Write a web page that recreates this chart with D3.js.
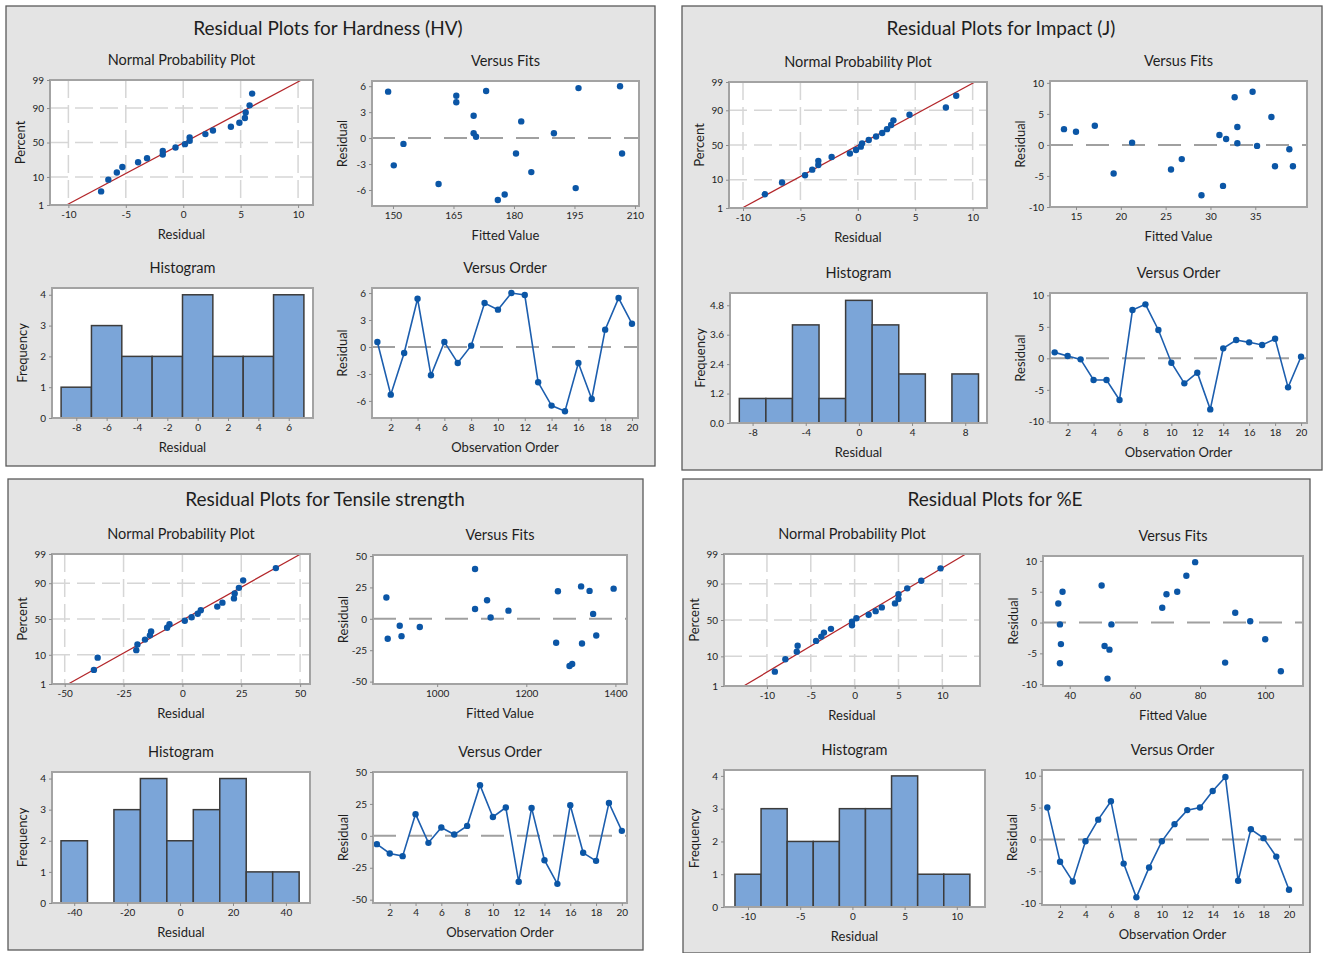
<!DOCTYPE html>
<html><head><meta charset="utf-8">
<script src="https://cdn.jsdelivr.net/npm/d3@7"></script>
<style>
body{margin:0;background:#fff;}
svg text{font-family:Lato,"Open Sans","Noto Sans",sans-serif;fill:#1e1e1e;}
</style></head><body>
<svg id="c" width="1323" height="953"></svg>
<script>
// ---------------- DATA ----------------
const percentTicks = [1, 10, 50, 90, 99];
const orderTicks = [2, 4, 6, 8, 10, 12, 14, 16, 18, 20];

// Hardness (HV)
const hardResid = [0.56,-5.30,-0.67,5.37,-3.15,0.56,-1.78,0.15,4.89,4.15,6.00,5.78,-3.93,-6.52,-7.15,-1.78,-5.78,1.93,5.44,2.59];
const hardFits  = [170.0,161.3,152.6,148.8,150.2,189.9,180.5,170.6,165.7,165.7,206.3,196.0,184.3,177.7,176.0,206.8,195.3,181.8,173.1,170.0];
const hardHistCenters = [-8,-6,-4,-2,0,2,4,6];
const hardHistCounts  = [1,3,2,2,4,2,2,4];
const hardNppXTicks = [-10,-5,0,5,10];
const hardFitTicks = [150,165,180,195,210];
const hardResidTicks = [-6,-3,0,3,6];
const hardHistXTicks = [-8,-6,-4,-2,0,2,4,6];
const hardFreqTicks = [0,1,2,3,4];

// Impact (J)
const impResid = [0.95,0.37,-0.16,-3.44,-3.44,-6.60,7.67,8.57,4.50,-0.69,-3.97,-2.28,-8.10,1.59,2.90,2.54,2.12,3.10,-4.60,0.26];
const impFits  = [31.75,21.26,35.2,37.2,39.2,31.4,32.7,34.7,36.8,38.8,25.6,26.8,29.0,31.0,33.0,13.66,15.0,17.1,19.2,33.0];
const impHistCenters = [-8,-6,-4,-2,0,2,4,6,8];
const impHistCounts  = [1,1,4,1,5,4,2,0,2];
const impNppXTicks = [-10,-5,0,5,10];
const impFitTicks = [15,20,25,30,35];
const impResidTicks = [-10,-5,0,5,10];
const impHistXTicks = [-8,-4,0,4,8];
const impFreqTicks = [0,1.2,2.4,3.6,4.8];

// Tensile strength
const tenResid = [-6.5,-13.8,-15.9,17.0,-5.5,6.5,1.0,7.8,39.7,14.8,22.2,-36.0,21.9,-19.1,-37.6,24.0,-13.3,-19.6,25.8,3.9];
const tenFits  = [961,920,889,886,916,1160,1120,1085,1085,1112,1342,1303,1271,1267,1297,1396,1357,1325,1323,1350];
const tenHistCenters = [-40,-30,-20,-10,0,10,20,30,40];
const tenHistCounts  = [2,0,3,4,2,3,4,1,1];
const tenNppXTicks = [-50,-25,0,25,50];
const tenFitTicks = [1000,1200,1400];
const tenResidTicks = [-50,-25,0,25,50];
const tenHistXTicks = [-40,-20,0,20,40];
const tenFreqTicks = [0,1,2,3,4];

// %E
const elResid = [5.0,-3.5,-6.6,-0.3,3.1,6.0,-3.8,-9.1,-4.4,-0.3,2.4,4.6,5.0,7.6,9.8,-6.5,1.6,0.2,-2.7,-7.9];
const elFits  = [37.8,37.3,37.0,37.0,36.5,49.8,50.7,51.6,52.2,52.8,68.4,69.7,73.0,75.8,78.5,87.7,90.8,95.4,100.0,104.8];
const elHistCenters = [-10,-7.5,-5,-2.5,0,2.5,5,7.5,10];
const elHistCounts  = [1,3,2,2,3,3,4,1,1];
const elNppXTicks = [-10,-5,0,5,10];
const elFitTicks = [40,60,80,100];
const elResidTicks = [-10,-5,0,5,10];
const elHistXTicks = [-10,-5,0,5,10];
const elFreqTicks = [0,1,2,3,4];

// ---------------- LAYOUT ----------------
const panels = [
  {title:"Residual Plots for Hardness (HV)", box:[6,6,655,466], tx:328, ty:28,
   resid:hardResid, fits:hardFits, hc:hardHistCenters, hn:hardHistCounts, bw:2,
   nppXT:hardNppXTicks, fitT:hardFitTicks, resT:hardResidTicks, hxT:hardHistXTicks, hyT:hardFreqTicks, hyFmt:d=>String(d),
   npp:{f:[50,80,313,205], x:[-11.6,11.3]},
   vf:{f:[372,81,639,206], x:[144.8,211], y:[-7.85,6.6]},
   hist:{f:[52,288,313,418], x:[-9.6,7.6], y:[0,4.22]},
   vo:{f:[372,288,638,418], x:[0.6,20.45], y:[-7.9,6.56]}},
  {title:"Residual Plots for Impact (J)", box:[682,6,1322,470], tx:1001, ty:28,
   resid:impResid, fits:impFits, hc:impHistCenters, hn:impHistCounts, bw:2,
   nppXT:impNppXTicks, fitT:impFitTicks, resT:impResidTicks, hxT:impHistXTicks, hyT:impFreqTicks, hyFmt:d=>d.toFixed(1),
   npp:{f:[729,82,987,208], x:[-11.22,11.25]},
   vf:{f:[1050,81,1307,207], x:[12.1,40.77], y:[-10,10.3]},
   hist:{f:[730,293,987,423], x:[-9.7,9.64], y:[0,5.3]},
   vo:{f:[1050,293,1307,423], x:[0.64,20.46], y:[-10.26,10.37]}},
  {title:"Residual Plots for Tensile strength", box:[8,479,643,950], tx:325, ty:499,
   resid:tenResid, fits:tenFits, hc:tenHistCenters, hn:tenHistCounts, bw:10,
   nppXT:tenNppXTicks, fitT:tenFitTicks, resT:tenResidTicks, hxT:tenHistXTicks, hyT:tenFreqTicks, hyFmt:d=>String(d),
   npp:{f:[52,554,310,684], x:[-55.4,54.2]},
   vf:{f:[373,555,627,684], x:[856,1426], y:[-51.9,50.8]},
   hist:{f:[52,772,310,903], x:[-48.4,49.1], y:[0,4.21]},
   vo:{f:[373,772,627,903], x:[0.7,20.4], y:[-52.6,50]}},
  {title:"Residual Plots for %E", box:[683,479,1310,953], tx:995, ty:499,
   resid:elResid, fits:elFits, hc:elHistCenters, hn:elHistCounts, bw:2.5,
   nppXT:elNppXTicks, fitT:elFitTicks, resT:elResidTicks, hxT:elHistXTicks, hyT:elFreqTicks, hyFmt:d=>String(d),
   npp:{f:[724,554,980,686], x:[-14.9,14.3]},
   vf:{f:[1043,556,1303,686], x:[31.8,111.6], y:[-10.3,10.8]},
   hist:{f:[724,770,985,907], x:[-12.3,12.7], y:[0,4.18]},
   vo:{f:[1042,770,1303,905], x:[0.58,21.1], y:[-10.3,10.9]}}
];

// ---------------- HELPERS ----------------
function qnorm(p){
 const a=[-3.969683028665376e+01,2.209460984245205e+02,-2.759285104469687e+02,1.383577518672690e+02,-3.066479806614716e+01,2.506628277459239e+00];
 const b=[-5.447609879822406e+01,1.615858368580409e+02,-1.556989798598866e+02,6.680131188771972e+01,-1.328068155288572e+01];
 const c=[-7.784894002430293e-03,-3.223964580411365e-01,-2.400758277161838e+00,-2.549732539343734e+00,4.374664141464968e+00,2.938163982698783e+00];
 const d=[7.784695709041462e-03,3.224671290700398e-01,2.445134137142996e+00,3.754408661907416e+00];
 const pl=0.02425, ph=1-pl; let q,r;
 if(p<pl){q=Math.sqrt(-2*Math.log(p));return (((((c[0]*q+c[1])*q+c[2])*q+c[3])*q+c[4])*q+c[5])/((((d[0]*q+d[1])*q+d[2])*q+d[3])*q+1);}
 if(p<=ph){q=p-0.5;r=q*q;return (((((a[0]*r+a[1])*r+a[2])*r+a[3])*r+a[4])*r+a[5])*q/(((((b[0]*r+b[1])*r+b[2])*r+b[3])*r+b[4])*r+1);}
 q=Math.sqrt(-2*Math.log(1-p));return -(((((c[0]*q+c[1])*q+c[2])*q+c[3])*q+c[4])*q+c[5])/((((d[0]*q+d[1])*q+d[2])*q+d[3])*q+1);
}
const fmt = d => String(d).replace("\u2212","-");
const svg = d3.select("#c");
const BLUE = "#0b56a6", FRAME = "#a3a3a3";

function axisStyle(g){
  g.selectAll("path").remove();
  g.selectAll("line").attr("stroke","#8c8c8c");
  g.selectAll("text").style("font-size","10px").attr("fill","#1e1e1e");
}

function frameBase(g, f, title, xl, yl){
  const [l,t,r,b] = f;
  g.append("rect").attr("x",l).attr("y",t).attr("width",r-l).attr("height",b-t).attr("fill","#fff");
  g.append("text").attr("x",(l+r)/2).attr("y",t-20).attr("dy","0.35em").attr("text-anchor","middle")
    .style("font-size","14.5px").text(title);
  g.append("text").attr("x",(l+r)/2).attr("y",b+29).attr("dy","0.35em").attr("text-anchor","middle")
    .style("font-size","13px").text(xl);
  g.append("text").attr("transform",`translate(${l-30},${(t+b)/2}) rotate(-90)`).attr("dy","0.35em")
    .attr("text-anchor","middle").style("font-size","13px").text(yl);
}
function frameBorder(g,f){
  const [l,t,r,b]=f;
  g.append("rect").attr("x",l).attr("y",t).attr("width",r-l).attr("height",b-t)
    .attr("fill","none").attr("stroke",FRAME).attr("stroke-width",2);
}
function axes(g,f,x,y,xt,yt,yfmt){
  const [l,t,r,b]=f;
  g.append("g").attr("transform",`translate(0,${b})`)
    .call(d3.axisBottom(x).tickValues(xt).tickSize(3).tickPadding(3).tickFormat(fmt)).call(axisStyle);
  g.append("g").attr("transform",`translate(${l},0)`)
    .call(d3.axisLeft(y).tickValues(yt).tickSize(3).tickPadding(3).tickFormat(yfmt||fmt)).call(axisStyle);
}

function drawNPP(g,P){
  const f=P.npp.f, [l,t,r,b]=f;
  frameBase(g,f,"Normal Probability Plot","Residual","Percent");
  const x=d3.scaleLinear().domain(P.npp.x).range([l,r]);
  // y scale: percent -> normal quantile -> pixels
  const zScale=d3.scaleLinear().domain([qnorm(0.01),qnorm(0.99)]).range([b,t]);
  const yp = p => zScale(qnorm(p/100));
  const y = d3.scaleLinear().domain(percentTicks).range(percentTicks.map(yp));
  // grid
  g.append("g").selectAll("line").data(P.nppXT).join("line")
    .attr("x1",d=>x(d)).attr("x2",d=>x(d)).attr("y1",t).attr("y2",b)
    .attr("stroke","#d6d6d6").attr("stroke-width",1.5).attr("stroke-dasharray","18,7");
  g.append("g").selectAll("line").data(percentTicks).join("line")
    .attr("x1",l).attr("x2",r).attr("y1",d=>yp(d)).attr("y2",d=>yp(d))
    .attr("stroke","#d6d6d6").attr("stroke-width",1.5).attr("stroke-dasharray","18,7");
  // fitted normal line between 1% and 99%
  const n=P.resid.length, mean=d3.mean(P.resid), sd=d3.deviation(P.resid);
  const lp=[0.01,0.99].map(p=>({xv:mean+sd*qnorm(p), p:p*100}));
  g.append("line").attr("x1",x(lp[0].xv)).attr("y1",yp(lp[0].p)).attr("x2",x(lp[1].xv)).attr("y2",yp(lp[1].p))
    .attr("stroke","#b3262a").attr("stroke-width",1.3);
  const sorted=P.resid.slice().sort(d3.ascending);
  g.append("g").selectAll("circle").data(sorted).join("circle")
    .attr("cx",d=>x(d)).attr("cy",(d,i)=>yp(100*(i+1-0.3)/(n+0.4))).attr("r",3.2).attr("fill",BLUE);
  frameBorder(g,f);
  axes(g,f,x,y,P.nppXT,percentTicks,d=>String(d));
}

function drawVF(g,P){
  const f=P.vf.f,[l,t,r,b]=f;
  frameBase(g,f,"Versus Fits","Fitted Value","Residual");
  const x=d3.scaleLinear().domain(P.vf.x).range([l,r]);
  const y=d3.scaleLinear().domain(P.vf.y).range([b,t]);
  g.append("line").attr("x1",l).attr("x2",r).attr("y1",y(0)).attr("y2",y(0))
    .attr("stroke","#a0a0a0").attr("stroke-width",2).attr("stroke-dasharray","23,13");
  g.append("g").selectAll("circle").data(P.resid).join("circle")
    .attr("cx",(d,i)=>x(P.fits[i])).attr("cy",d=>y(d)).attr("r",3.2).attr("fill",BLUE);
  frameBorder(g,f);
  axes(g,f,x,y,P.fitT,P.resT);
}

function drawHist(g,P){
  const f=P.hist.f,[l,t,r,b]=f;
  frameBase(g,f,"Histogram","Residual","Frequency");
  const x=d3.scaleLinear().domain(P.hist.x).range([l,r]);
  const y=d3.scaleLinear().domain(P.hist.y).range([b,t]);
  g.append("g").selectAll("rect").data(P.hc.map((c,i)=>({c,n:P.hn[i]})).filter(d=>d.n>0)).join("rect")
    .attr("x",d=>x(d.c-P.bw/2)).attr("width",d=>x(d.c+P.bw/2)-x(d.c-P.bw/2))
    .attr("y",d=>y(d.n)).attr("height",d=>y(0)-y(d.n))
    .attr("fill","#7ba5d8").attr("stroke","#3c3c3c").attr("stroke-width",1.5);
  frameBorder(g,f);
  axes(g,f,x,y,P.hxT,P.hyT,P.hyFmt);
}

function drawVO(g,P){
  const f=P.vo.f,[l,t,r,b]=f;
  frameBase(g,f,"Versus Order","Observation Order","Residual");
  const x=d3.scaleLinear().domain(P.vo.x).range([l,r]);
  const y=d3.scaleLinear().domain(P.vo.y).range([b,t]);
  g.append("line").attr("x1",l).attr("x2",r).attr("y1",y(0)).attr("y2",y(0))
    .attr("stroke","#a0a0a0").attr("stroke-width",2).attr("stroke-dasharray","23,13");
  g.append("path").datum(P.resid).attr("fill","none").attr("stroke","#1c5eae").attr("stroke-width",1.6)
    .attr("d",d3.line().x((d,i)=>x(i+1)).y(d=>y(d)));
  g.append("g").selectAll("circle").data(P.resid).join("circle")
    .attr("cx",(d,i)=>x(i+1)).attr("cy",d=>y(d)).attr("r",3.2).attr("fill",BLUE);
  frameBorder(g,f);
  axes(g,f,x,y,orderTicks,P.resT);
}

panels.forEach(P=>{
  const g=svg.append("g");
  const [x0,y0,x1,y1]=P.box;
  g.append("rect").attr("x",x0).attr("y",y0).attr("width",x1-x0).attr("height",y1-y0)
    .attr("fill","#e4e4e4").attr("stroke","#5a5a5a").attr("stroke-width",1.3);
  g.append("text").attr("x",P.tx).attr("y",P.ty).attr("dy","0.35em").attr("text-anchor","middle")
    .style("font-size","19px").text(P.title);
  drawNPP(g.append("g"),P);
  drawVF(g.append("g"),P);
  drawHist(g.append("g"),P);
  drawVO(g.append("g"),P);
});
</script></body></html>
